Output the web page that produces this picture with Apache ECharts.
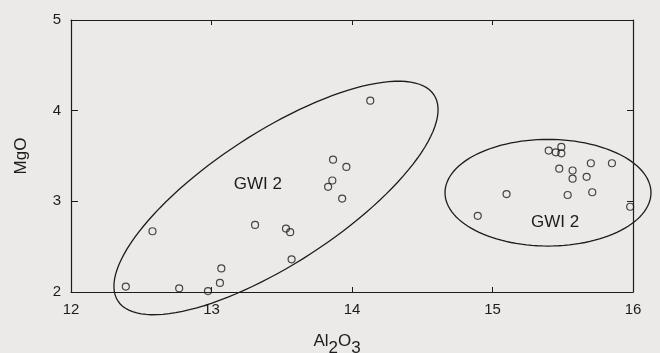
<!DOCTYPE html>
<html>
<head>
<meta charset="utf-8">
<script src="https://cdn.jsdelivr.net/npm/echarts@6/dist/echarts.min.js"></script>
<style>
  html, body { margin: 0; padding: 0; background: #ebeae8; }
  #chart { width: 660px; height: 353px; }
</style>
</head>
<body>
<div id="chart"></div>
<script>
// 数据 (Al2O3, MgO)
const groupLeft = [
  [12.39, 2.06], [12.58, 2.67], [12.77, 2.04], [12.975, 2.01], [13.06, 2.10],
  [13.07, 2.26], [13.31, 2.74], [13.53, 2.70], [13.56, 2.66], [13.57, 2.36],
  [13.83, 3.16], [13.86, 3.23], [13.865, 3.46], [13.96, 3.38], [13.93, 3.03],
  [14.13, 4.11]
];
const groupRight = [
  [15.40, 3.56], [15.45, 3.54], [15.49, 3.60], [15.49, 3.53], [15.475, 3.36],
  [15.57, 3.34], [15.57, 3.25], [15.67, 3.27], [15.70, 3.42], [15.85, 3.42],
  [15.10, 3.08], [15.535, 3.07], [15.71, 3.10], [14.895, 2.84], [15.98, 2.94]
];
const xTicks = [12, 13, 14, 15, 16];
const yTicks = [2, 3, 4, 5];
const groupNames = ['GWI 2', 'GWI 2'];
// 椭圆: 中心, 两个共轭半轴 (数据单位)
const ellipseCenter = [[13.459, 3.037], [15.395, 3.095]];
const ellipseU = [[1.125, 1.136], [0.733, 0]];
const ellipseV = [[0.255, -0.607], [0, 0.588]];
const nameAt = [[13.33, 3.19], [15.445, 2.764]];

const ink = '#1c1c1c';
const font = '"Liberation Sans", Arial, sans-serif';

const myChart = echarts.init(document.getElementById('chart'));

const option = {
  backgroundColor: '#ebeae8',
  animation: false,
  grid: {
    left: 71, right: 27, top: 20, bottom: 61,
    containLabel: false,
    outerBoundsMode: 'none'
  },
  xAxis: [
    {
      type: 'value', min: xTicks[0], max: xTicks[xTicks.length - 1], interval: 1,
      position: 'bottom',
      name: 'Al{s|2}O{s|3}',
      nameLocation: 'middle',
      nameGap: 34,
      nameTextStyle: {
        color: ink, fontFamily: font, fontSize: 17, padding: [0, 30, 0, 0],
        rich: { s: { fontSize: 17, fontFamily: font, color: ink, padding: [14, 0, 0, 0] } }
      },
      axisLine: { show: true, lineStyle: { color: ink, width: 1.2 } },
      axisTick: { show: true, inside: true, length: 5, lineStyle: { color: ink } },
      axisLabel: { color: ink, fontFamily: font, fontSize: 15, margin: 10 },
      splitLine: { show: false }
    },
    {
      type: 'value', min: xTicks[0], max: xTicks[xTicks.length - 1], interval: 1,
      position: 'top',
      axisLine: { show: true, lineStyle: { color: ink, width: 1.2 } },
      axisTick: { show: true, inside: true, length: 5, lineStyle: { color: ink } },
      axisLabel: { show: false },
      splitLine: { show: false }
    }
  ],
  yAxis: [
    {
      type: 'value', min: yTicks[0], max: yTicks[yTicks.length - 1], interval: 1,
      position: 'left',
      name: 'MgO',
      nameLocation: 'middle',
      nameGap: 41,
      nameTextStyle: { color: ink, fontFamily: font, fontSize: 17 },
      axisLine: { show: true, lineStyle: { color: ink, width: 1.2 } },
      axisTick: { show: true, inside: true, length: 7, lineStyle: { color: ink } },
      axisLabel: { color: ink, fontFamily: font, fontSize: 15, margin: 10 },
      splitLine: { show: false }
    },
    {
      type: 'value', min: yTicks[0], max: yTicks[yTicks.length - 1], interval: 1,
      position: 'right',
      axisLine: { show: true, lineStyle: { color: ink, width: 1.2 } },
      axisTick: { show: true, inside: true, length: 6, lineStyle: { color: ink } },
      axisLabel: { show: false },
      splitLine: { show: false }
    }
  ],
  series: [
    {
      type: 'custom',
      clip: false,
      silent: true,
      data: groupNames.map(function (n, i) { return [i]; }),
      renderItem: function (params, api) {
        const i = params.dataIndex;
        const c = ellipseCenter[i], u = ellipseU[i], v = ellipseV[i];
        const pts = [];
        for (let k = 0; k < 120; k++) {
          const t = (k / 120) * Math.PI * 2;
          pts.push(api.coord([
            c[0] + u[0] * Math.cos(t) + v[0] * Math.sin(t),
            c[1] + u[1] * Math.cos(t) + v[1] * Math.sin(t)
          ]));
        }
        const lp = api.coord(nameAt[i]);
        return {
          type: 'group',
          children: [
            {
              type: 'polygon',
              shape: { points: pts },
              style: { fill: 'none', stroke: ink, lineWidth: 1.3 }
            },
            {
              type: 'text',
              x: lp[0], y: lp[1],
              style: {
                text: groupNames[i], fill: ink, font: '17px ' + font,
                align: 'center', verticalAlign: 'middle'
              }
            }
          ]
        };
      }
    },
    {
      type: 'scatter',
      data: groupLeft,
      symbol: 'circle',
      symbolSize: 7,
      itemStyle: { color: 'transparent', borderColor: ink, borderWidth: 1.2 }
    },
    {
      type: 'scatter',
      data: groupRight,
      symbol: 'circle',
      symbolSize: 7,
      itemStyle: { color: 'transparent', borderColor: ink, borderWidth: 1.2 }
    }
  ]
};

myChart.setOption(option);
window.addEventListener('resize', function () {
  myChart.resize();
});
</script>
</body>
</html>
